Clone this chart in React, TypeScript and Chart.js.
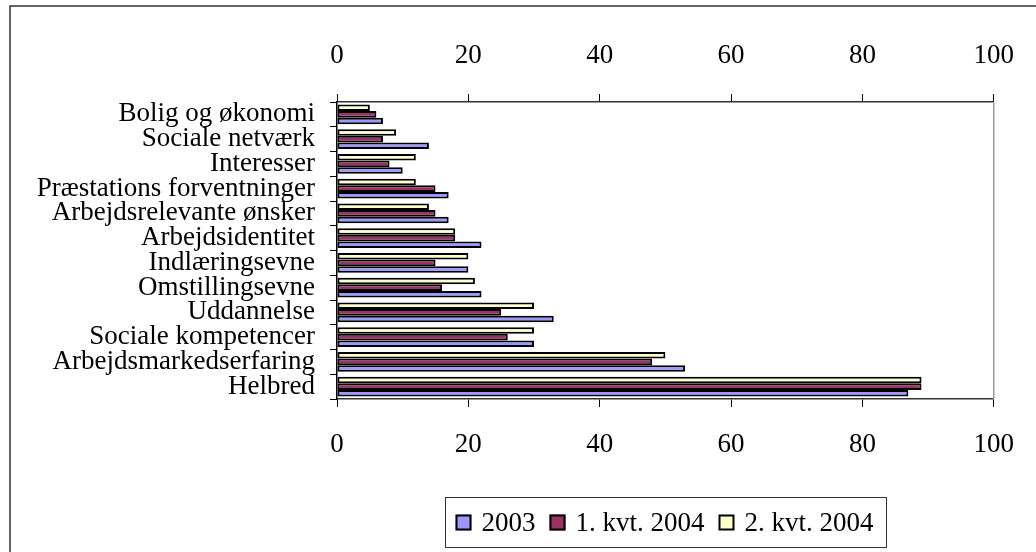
import React, { useEffect, useRef } from "react";
import { Chart, registerables } from "chart.js";

Chart.register(...registerables);

const categories = [
  "Bolig og økonomi",
  "Sociale netværk",
  "Interesser",
  "Præstations forventninger",
  "Arbejdsrelevante ønsker",
  "Arbejdsidentitet",
  "Indlæringsevne",
  "Omstillingsevne",
  "Uddannelse",
  "Sociale kompetencer",
  "Arbejdsmarkedserfaring",
  "Helbred",
];
const values2003 = [7, 14, 10, 17, 17, 22, 20, 22, 33, 30, 53, 87];
const valuesQ1_2004 = [6, 7, 8, 15, 15, 18, 15, 16, 25, 26, 48, 89];
const valuesQ2_2004 = [5, 9, 12, 12, 14, 18, 20, 21, 30, 30, 50, 89];
const seriesNames = ["2003", "1. kvt. 2004", "2. kvt. 2004"];
const seriesColors = ["#9999FF", "#993366", "#FFFFCC"];
const axisMin = 0;
const axisMax = 100;
const axisStep = 20;

const FONT = "'Liberation Serif', 'Times New Roman', serif";

const framePlugin = {
  id: "frame",
  beforeDraw(chart: any) {
    const ctx = chart.ctx;
    ctx.save();
    ctx.strokeStyle = "#333";
    ctx.lineWidth = 1.5;
    ctx.strokeRect(10, 6, 1100, 700);
    ctx.restore();
  },
  afterDraw(chart: any) {
    const ctx = chart.ctx;
    const a = chart.chartArea;
    ctx.save();
    // right plot border
    ctx.strokeStyle = "#999";
    ctx.lineWidth = 1.5;
    ctx.beginPath();
    ctx.moveTo(a.right, a.top);
    ctx.lineTo(a.right, a.bottom);
    ctx.stroke();

    // legend
    ctx.font = "27px " + FONT;
    const marker = 16;
    const gapText = 10;
    const gapItem = 14;
    const padL = 10;
    const padR = 13;
    const widths = seriesNames.map((n) => ctx.measureText(n).width);
    let total = padL + padR;
    widths.forEach((w, i) => {
      total += marker + gapText + w + (i < widths.length - 1 ? gapItem : 0);
    });
    const cx = (a.left + a.right) / 2;
    const boxLeft = Math.round(cx - total / 2) + 0.5;
    const boxTop = 497.5;
    const boxH = 50;
    ctx.fillStyle = "#fff";
    ctx.fillRect(boxLeft, boxTop, total, boxH);
    ctx.strokeStyle = "#333";
    ctx.lineWidth = 1;
    ctx.strokeRect(boxLeft, boxTop, total, boxH);
    const cy = boxTop + boxH / 2;
    let x = boxLeft + padL;
    widths.forEach((w, i) => {
      ctx.fillStyle = seriesColors[i];
      ctx.fillRect(x, cy - marker / 2, marker, marker);
      ctx.strokeStyle = "#000";
      ctx.lineWidth = 2;
      ctx.strokeRect(x + 1, cy - marker / 2 + 1, marker - 2, marker - 2);
      x += marker + gapText;
      ctx.fillStyle = "#000";
      ctx.textBaseline = "middle";
      ctx.textAlign = "left";
      ctx.fillText(seriesNames[i], x, cy + 1);
      x += w + gapItem;
    });
    ctx.restore();
  },
};

export default function App() {
  const ref = useRef<HTMLCanvasElement>(null);
  useEffect(() => {
    if (!ref.current) return;
    const xCommon = (position: string) => ({
      type: "linear",
      position,
      axis: "x",
      min: axisMin,
      max: axisMax,
      ticks: {
        stepSize: axisStep,
        color: "#000",
        padding: 22,
        font: { family: FONT, size: 27 },
      },
      grid: {
        drawOnChartArea: false,
        drawTicks: true,
        tickLength: 8,
        color: "#000",
        tickWidth: 1,
      },
      border: { display: true, color: "#333", width: 1.5 },
    });
    const barCommon = {
      borderColor: "#000",
      borderWidth: 2,
      borderSkipped: false,
      xAxisID: "x",
    };
    const chart = new Chart(ref.current, {
      type: "bar",
      data: {
        labels: categories,
        datasets: [
          { ...barCommon, label: seriesNames[2], data: valuesQ2_2004, backgroundColor: seriesColors[2] },
          { ...barCommon, label: seriesNames[1], data: valuesQ1_2004, backgroundColor: seriesColors[1] },
          { ...barCommon, label: seriesNames[0], data: values2003, backgroundColor: seriesColors[0] },
        ],
      },
      options: {
        indexAxis: "y",
        responsive: false,
        animation: false,
        devicePixelRatio: 1,
        categoryPercentage: 0.8,
        barPercentage: 1,
        layout: { padding: { left: 0, top: 0, right: 40, bottom: 93 } },
        plugins: {
          legend: { display: false },
          tooltip: { enabled: false },
        },
        scales: {
          x: {
            ...xCommon("top"),
            afterFit: (s: any) => {
              s.height = 102;
            },
          },
          x2: {
            ...xCommon("bottom"),
            afterFit: (s: any) => {
              s.height = 60;
            },
          },
          y: {
            type: "category",
            position: "left",
            offset: true,
            ticks: {
              autoSkip: false,
              color: "#000",
              padding: 15,
              font: { family: FONT, size: 27 },
            },
            grid: {
              offset: true,
              drawOnChartArea: false,
              drawTicks: true,
              tickLength: 7,
              color: "#000",
            },
            border: { display: true, color: "#000", width: 1.5 },
            afterFit: (s: any) => {
              s.width = 337;
            },
          },
        },
      } as any,
      plugins: [framePlugin],
    });
    return () => chart.destroy();
  }, []);
  return (
    <div style={{ position: "fixed", left: 0, top: 0, width: 1036, height: 552, background: "#fff" }}>
      <canvas ref={ref} width={1036} height={552} style={{ width: 1036, height: 552 }} />
    </div>
  );
}
